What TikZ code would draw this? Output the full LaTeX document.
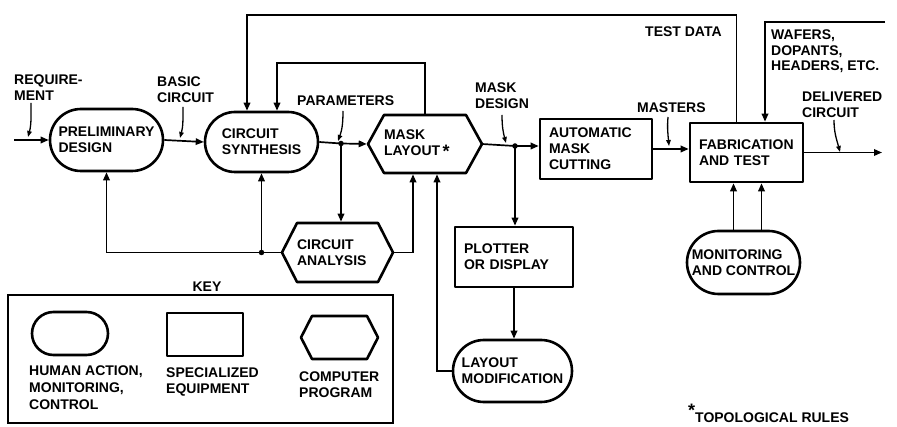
\documentclass[tikz,border=0pt]{standalone}
\usepackage{fontspec}
\setmainfont{Liberation Sans}
\usetikzlibrary{shapes.misc,arrows.meta,calc}
\newcommand\drawhexshape[2]{\draw[shapeline] ([xshift=#2]#1.north west) -- ([xshift=-#2]#1.north east) -- (#1.east) -- ([xshift=-#2]#1.south east) -- ([xshift=#2]#1.south west) -- (#1.west) -- cycle;}
\begin{document}
\begin{tikzpicture}[x=1pt,y=-1pt,
  font=\fontsize{14}{16}\selectfont\bfseries,
  shapeline/.style={line width=2.6pt, line join=round},
  stadium/.style={rounded rectangle, draw, shapeline, inner sep=0pt, align=left},
  boxnode/.style={rectangle, draw, shapeline, inner xsep=9pt, inner ysep=0pt, align=left},
  hexnode/.style={rectangle, inner xsep=16pt, inner ysep=0pt, outer sep=0pt, align=left},
  conn/.style={line width=1.7pt, -{Triangle[length=8pt,width=6.5pt]}},
  tohex/.style={shorten >=1.3pt},
  plain/.style={line width=1.7pt},
  ptr/.style={line width=1.3pt, -{Triangle[length=6pt,width=4.5pt]}},
  lbl/.style={anchor=north west, inner sep=0pt, align=left},
  dot/.style={circle, fill, inner sep=0pt, minimum size=5.5pt}
]
\useasboundingbox[fill=white] (0,0) rectangle (897,427);

% main nodes
\node[stadium, minimum width=113pt, minimum height=62pt] (pd) at (106.5,140) {PRELIMINARY\\DESIGN};
\node[stadium, minimum width=113pt, minimum height=60pt] (cs) at (261.5,142) {CIRCUIT\\SYNTHESIS};
\node[hexnode, text width=82pt, minimum height=58pt] (ml) at (425,144) {MASK\\LAYOUT\,\raisebox{-2pt}{\fontsize{18}{18}\selectfont *}};
\node[boxnode, text width=94pt, minimum height=60pt] (amc) at (596,149) {AUTOMATIC\\MASK\\CUTTING};
\node[boxnode, text width=95pt, minimum height=59pt] (ft) at (746.5,152.5) {FABRICATION\\AND TEST};
\node[hexnode, inner xsep=15pt, text width=81pt, minimum height=59pt] (ca) at (337.5,252.5) {CIRCUIT\\ANALYSIS};
\node[boxnode, text width=100pt, minimum height=60pt] (pod) at (514,257) {PLOTTER\\OR DISPLAY};
\node[stadium, minimum width=119pt, minimum height=62pt] (lm) at (512.5,371) {LAYOUT\\MODIFICATION};
\node[stadium, minimum width=113pt, minimum height=63pt] (mc) at (743.5,262.5) {MONITORING\\AND CONTROL};
\drawhexshape{ml}{16pt}
\drawhexshape{ca}{15pt}

% connectors
\coordinate (in0) at (14,140);
\draw[conn] (in0) -- (pd.west);
\draw[conn] (pd.east) -- (cs.west);
\coordinate (p1) at (341,143.5);
\draw[plain] (cs.east) -- (p1);
\draw[conn,tohex] (p1) -- (ml.west);
\draw[conn,tohex] (p1) -- (p1 |- ca.north);
\node[dot] (d1) at (p1) {};
\draw[conn] (ca.west) -| (pd.south);
\coordinate (p2) at (cs.south |- ca.west);
\draw[conn] (p2) -- (cs.south);
\node[dot] (d2) at (p2) {};
\draw[conn,tohex] (ca.east) -| ([xshift=-12pt]ml.south);
\draw[conn,tohex] (lm.west) -| ([xshift=12pt]ml.south);
\coordinate (c1) at (277,63);
\draw[conn] (ml.north) |- (c1) -- (c1 |- cs.north);
\coordinate (c2) at (247,15);
\draw[conn] ([xshift=-10pt]ft.north) |- (c2) -- (c2 |- cs.north);
\coordinate (p3) at (515,146);
\draw[plain] (ml.east) -- (p3);
\draw[conn] (p3) -- (p3 -| amc.west);
\draw[conn] (p3) -- (p3 |- pod.north);
\node[dot] (d3) at (p3) {};
\draw[conn] (pod.south) -- (pod.south |- lm.north);
\draw[conn] (amc.east) -- (amc.east -| ft.west);
\coordinate (w0) at (885,22);
\draw[conn] (w0) -| ([xshift=18.5pt]ft.north);
\coordinate (out0) at (882,155);
\draw[conn] (ft.east) -- (ft.east -| out0);
\draw[conn] ([xshift=-10pt]mc.north) -- ([xshift=-10pt]mc.north |- ft.south);
\draw[conn] ([xshift=18pt]mc.north) -- ([xshift=18pt]mc.north |- ft.south);

% labels
\node[lbl] (lreq) at (14,75) {REQUIRE-\\MENT};
\node[lbl] (lbas) at (157,77) {BASIC\\CIRCUIT};
\node[lbl] (lpar) at (297,96) {PARAMETERS};
\node[lbl] (lmd) at (475,83) {MASK\\DESIGN};
\node[lbl] (ltd) at (645,27) {TEST DATA};
\node[lbl, font=\fontsize{14}{15.5}\selectfont\bfseries] (lwaf) at (771,30) {WAFERS,\\DOPANTS,\\HEADERS, ETC.};
\node[lbl] (ldel) at (802,92) {DELIVERED\\CIRCUIT};
\node[lbl] (lmas) at (637,103) {MASTERS};
\node[lbl, anchor=base west] (ltop) at (688,423) {\raisebox{6pt}{\fontsize{18}{18}\selectfont *}TOPOLOGICAL RULES};

% pointers
\coordinate (r1) at (31,103); \coordinate (r2) at (28,137);
\draw[ptr] (r1) to[out=-90,in=75] (r2);
\coordinate (b1) at (183,107); \coordinate (b2) at (180,138);
\draw[ptr] (b1) to[out=-90,in=75] (b2);
\coordinate (q1) at (343,111); \coordinate (q2) at (338,141);
\draw[ptr] (q1) to[out=-90,in=70] (q2);
\coordinate (m1) at (502,115); \coordinate (m2) at (506,143);
\draw[ptr] (m1) to[out=-90,in=105] (m2);
\coordinate (s1) at (668,117); \coordinate (s2) at (669,146);
\draw[ptr] (s1) to[out=-95,in=95] (s2);
\coordinate (e1) at (834,120); \coordinate (e2) at (840,152);
\draw[ptr] (e1) to[out=-90,in=105] (e2);

% key
\node[draw, line width=1.9pt, minimum width=385pt, minimum height=128pt, inner sep=0pt] (keybox) at (200.5,359) {};
\node[inner sep=0pt] (keyt) at (207,286.5) {KEY};
\node[rounded rectangle, draw, shapeline, minimum width=76pt, minimum height=43pt, inner sep=0pt] (k1) at (70,333.5) {};
\node[rectangle, draw, shapeline, minimum width=76pt, minimum height=43pt, inner sep=0pt] (k2) at (205,334.5) {};
\node[rectangle, minimum width=77pt, minimum height=43pt, inner sep=0pt, outer sep=0pt] (k3) at (339.5,337.5) {};
\drawhexshape{k3}{11pt}
\node[lbl, font=\fontsize{14}{17}\selectfont\bfseries] (kl1) at (29,366) {HUMAN ACTION,\\MONITORING,\\CONTROL};
\node[lbl] (kl2) at (166,368) {SPECIALIZED\\EQUIPMENT};
\node[lbl] (kl3) at (299,372) {COMPUTER\\PROGRAM};
\end{tikzpicture}
\end{document}
